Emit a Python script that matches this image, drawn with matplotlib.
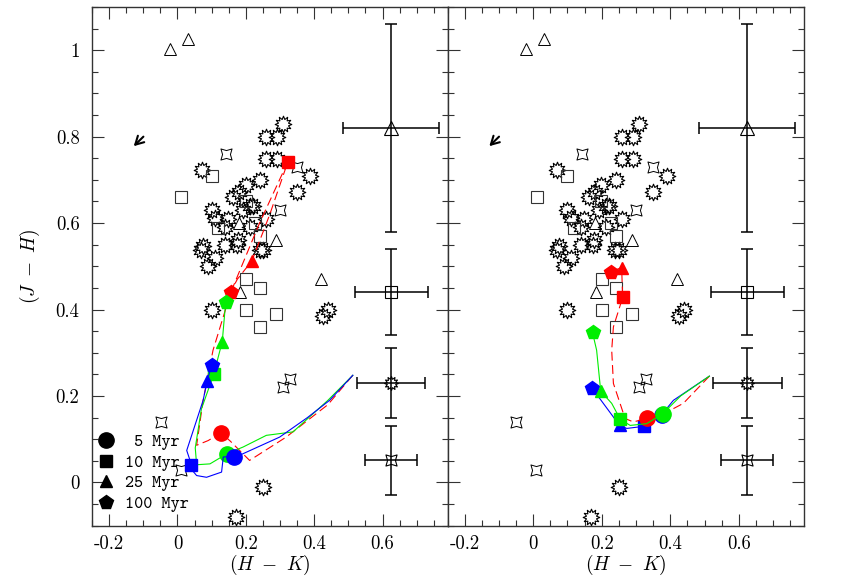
import matplotlib
matplotlib.use('Agg')
from matplotlib import pyplot as plt
from matplotlib.path import Path
from matplotlib.lines import Line2D
from matplotlib.font_manager import FontProperties
import matplotlib.ticker as ticker
import numpy as np

matplotlib.rcParams['font.family'] = 'cmr10'
matplotlib.rcParams['mathtext.fontset'] = 'cm'
matplotlib.rcParams['axes.formatter.use_mathtext'] = True
matplotlib.rcParams['font.size'] = 13

# observed stars (same in both panels)
sun_x = [0.308, 0.26, 0.291, 0.26, 0.291, 0.0705, 0.389, 0.2405, 0.349, 0.199, 0.163, 0.179,
         0.211, 0.221, 0.0997, 0.109, 0.148, 0.138, 0.192, 0.26, 0.211, 0.075, 0.07, 0.109,
         0.09, 0.138, 0.173, 0.177, 0.24, 0.25, 0.0997, 0.44, 0.425, 0.25, 0.17]
sun_y = [0.83, 0.80, 0.80, 0.749, 0.749, 0.722, 0.71, 0.70, 0.671, 0.689, 0.661, 0.671,
         0.639, 0.64, 0.631, 0.612, 0.61, 0.591, 0.631, 0.61, 0.591, 0.546, 0.538, 0.519,
         0.50, 0.55, 0.55, 0.561, 0.538, 0.538, 0.399, 0.40, 0.384, -0.011, -0.08]
square_x = [0.0997, 0.0102, 0.199, 0.228, 0.119, 0.2405, 0.2, 0.2405, 0.2, 0.289, 0.2405]
square_y = [0.71, 0.66, 0.65, 0.60, 0.589, 0.571, 0.47, 0.449, 0.40, 0.39, 0.359]
tri_x = [-0.022, 0.031, 0.179, 0.289, 0.42, 0.182]
tri_y = [1.002, 1.026, 0.60, 0.561, 0.471, 0.4415]
star4_x = [0.141, 0.349, 0.299, 0.328, 0.308, -0.049, 0.0093]
star4_y = [0.76, 0.73, 0.631, 0.239, 0.22, 0.14, 0.0295]

# typical errors
err_x = [0.625, 0.625, 0.625, 0.625]
err_y = [0.82, 0.44, 0.23, 0.051]
err_dx = [0.14, 0.107, 0.1, 0.076]
err_dy = [0.24, 0.10, 0.08, 0.08]

# reddening arrow
arrow_start = (-0.0997, 0.80)
arrow_end = (-0.128, 0.778)

ages = [' 5 Myr', '10 Myr', '25 Myr', '100 Myr']

# left panel tracks
red_l_x = [0.513, 0.44, 0.318, 0.211, 0.154, 0.127, 0.09, 0.056, 0.061, 0.075, 0.104, 0.156, 0.24, 0.323, 0.27, 0.218, 0.175, 0.156]
red_l_y = [0.248, 0.18, 0.105, 0.051, 0.096, 0.115, 0.097, 0.086, 0.113, 0.19, 0.306, 0.44, 0.6, 0.742, 0.62, 0.513, 0.47, 0.4415]
green_l_x = [0.513, 0.44, 0.338, 0.26, 0.192, 0.146, 0.095, 0.056, 0.052, 0.07, 0.106, 0.131, 0.141]
green_l_y = [0.248, 0.19, 0.117, 0.109, 0.082, 0.067, 0.043, 0.041, 0.08, 0.17, 0.25, 0.326, 0.417]
blue_l_x = [0.513, 0.445, 0.38, 0.299, 0.182, 0.165, 0.134, 0.129, 0.085, 0.056, 0.0315, 0.041, 0.027, 0.056, 0.075, 0.087, 0.0997]
blue_l_y = [0.248, 0.19, 0.15, 0.105, 0.063, 0.06, 0.059, 0.024, 0.012, 0.016, 0.039, 0.041, 0.074, 0.144, 0.19, 0.235, 0.271]
# age points: 5, 10, 25, 100 Myr
red_l_age_x = [0.127, 0.323, 0.218, 0.156]
red_l_age_y = [0.115, 0.742, 0.513, 0.4415]
green_l_age_x = [0.146, 0.106, 0.131, 0.141]
green_l_age_y = [0.067, 0.25, 0.326, 0.417]
blue_l_age_x = [0.165, 0.041, 0.087, 0.0997]
blue_l_age_y = [0.06, 0.041, 0.235, 0.271]

# right panel tracks
red_r_x = [0.514, 0.438, 0.40, 0.331, 0.292, 0.268, 0.234, 0.229, 0.234, 0.261, 0.258, 0.227]
red_r_y = [0.246, 0.183, 0.167, 0.148, 0.14, 0.148, 0.229, 0.306, 0.36, 0.428, 0.497, 0.488]
green_r_x = [0.514, 0.43, 0.378, 0.331, 0.283, 0.254, 0.229, 0.197, 0.185, 0.173]
green_r_y = [0.246, 0.2, 0.159, 0.136, 0.132, 0.146, 0.183, 0.211, 0.306, 0.347]
blue_r_x = [0.514, 0.409, 0.375, 0.351, 0.324, 0.273, 0.252, 0.171]
blue_r_y = [0.246, 0.19, 0.157, 0.152, 0.130, 0.125, 0.132, 0.219]
red_r_age_x = [0.331, 0.261, 0.258, 0.227]
red_r_age_y = [0.148, 0.428, 0.497, 0.488]
green_r_age_x = [0.378, 0.254, 0.197, 0.173]
green_r_age_y = [0.159, 0.146, 0.211, 0.347]
blue_r_age_x = [0.375, 0.324, 0.252, 0.171]
blue_r_age_y = [0.157, 0.130, 0.132, 0.219]


def sun_marker():
	n = 12
	ang = np.linspace(0, 2 * np.pi, 2 * n, endpoint=False) + np.pi / 2
	r = np.where(np.arange(2 * n) % 2 == 0, 1.0, 0.62)
	verts = np.column_stack([r * np.cos(ang), r * np.sin(ang)])
	verts = np.vstack([verts, verts[:1]])
	codes = [Path.MOVETO] + [Path.LINETO] * (2 * n - 1) + [Path.CLOSEPOLY]
	return Path(verts, codes)


def star4_marker():
	ang = np.arange(8) * np.pi / 4 + np.pi / 4
	r = np.where(np.arange(8) % 2 == 0, 1.0, 0.5)
	verts = np.column_stack([r * np.cos(ang), r * np.sin(ang)])
	verts = np.vstack([verts, verts[:1]])
	codes = [Path.MOVETO] + [Path.LINETO] * 7 + [Path.CLOSEPOLY]
	return Path(verts, codes)


SUN = sun_marker()
STAR4 = star4_marker()
age_markers = ['o', 's', '^', 'p']
age_sizes = [11, 8, 9, 10.5]
RED, GREEN, BLUE = '#ff0000', '#00ee00', '#0000ff'


def draw_observed(ax):
	ax.plot(sun_x, sun_y, ls='none', marker=SUN, ms=12, mfc='none', mec='k', mew=0.8)
	ax.plot(square_x, square_y, ls='none', marker='s', ms=8, mfc='none', mec='#333333', mew=0.8)
	ax.plot(tri_x, tri_y, ls='none', marker='^', ms=9, mfc='none', mec='k', mew=0.7)
	ax.plot(star4_x, star4_y, ls='none', marker=STAR4, ms=8, mfc='none', mec='k', mew=0.7)
	mk = ['^', 's', SUN, STAR4]
	ms = [10, 8, 10, 8]
	for i in range(len(err_x)):
		ax.errorbar(err_x[i], err_y[i], xerr=err_dx[i], yerr=err_dy[i], fmt='none',
			ecolor='k', elinewidth=1.1, capsize=4, capthick=1.1)
		ax.plot(err_x[i], err_y[i], ls='none', marker=mk[i], ms=ms[i], mfc='none', mec='k', mew=0.8)
	ax.annotate('', xy=arrow_end, xytext=arrow_start,
		arrowprops=dict(arrowstyle='->,head_length=0.45,head_width=0.25', lw=1.5, color='k',
			shrinkA=0, shrinkB=0))


def draw_track(ax, x, y, ax_, ay_, color, ls):
	if ls == '--':
		ax.plot(x, y, color=color, lw=0.8, ls=(0, (8, 4)))
	else:
		ax.plot(x, y, color=color, lw=0.8, ls='-')
	for i in range(4):
		ax.plot(ax_[i], ay_[i], ls='none', marker=age_markers[i], ms=age_sizes[i],
			color=color, mec=color)


def style_axis(ax):
	ax.set_xlim(-0.25, 0.79)
	ax.set_ylim(-0.1, 1.1)
	ax.xaxis.set_major_locator(ticker.MultipleLocator(0.2))
	ax.xaxis.set_minor_locator(ticker.MultipleLocator(0.05))
	ax.yaxis.set_major_locator(ticker.MultipleLocator(0.2))
	ax.yaxis.set_minor_locator(ticker.MultipleLocator(0.05))
	fmt = ticker.FuncFormatter(lambda v, p: '0' if abs(v) < 1e-9 else ('1' if abs(v - 1) < 1e-9 else '%g' % v))
	ax.xaxis.set_major_formatter(fmt)
	ax.yaxis.set_major_formatter(fmt)
	ax.tick_params(which='both', direction='in', top=True, right=True, width=0.8, color='#333333')
	ax.tick_params(which='major', length=8.5, labelsize=13.5)
	ax.tick_params(axis='x', which='major', pad=7)
	ax.tick_params(axis='y', which='major', pad=9)
	ax.tick_params(which='minor', length=4.3)
	for s in ax.spines.values():
		s.set_linewidth(1.0)
		s.set_color('#333333')
	ax.set_xlabel(r'$(H\ -\ K)$', fontsize=14, labelpad=0)


def main():
	fig = plt.figure(figsize=(8.49, 5.81), dpi=100)
	ax_l = fig.add_axes([0.1084, 0.0952, 0.4187, 0.8928])
	ax_r = fig.add_axes([0.5271, 0.0952, 0.4199, 0.8928])

	for ax in (ax_l, ax_r):
		style_axis(ax)
		draw_observed(ax)

	draw_track(ax_l, red_l_x, red_l_y, red_l_age_x, red_l_age_y, RED, '--')
	draw_track(ax_l, green_l_x, green_l_y, green_l_age_x, green_l_age_y, GREEN, '-')
	draw_track(ax_l, blue_l_x, blue_l_y, blue_l_age_x, blue_l_age_y, BLUE, '-')

	draw_track(ax_r, blue_r_x, blue_r_y, blue_r_age_x, blue_r_age_y, BLUE, '-')
	draw_track(ax_r, red_r_x, red_r_y, red_r_age_x, red_r_age_y, RED, '--')
	draw_track(ax_r, green_r_x, green_r_y, green_r_age_x, green_r_age_y, GREEN, '-')

	ax_l.set_ylabel(r'$(J\ -\ H)$', fontsize=14, labelpad=10)
	ax_r.tick_params(labelleft=False)

	handles = [Line2D([], [], ls='none', marker=age_markers[i], ms=age_sizes[i], color='k')
		for i in range(4)]
	ax_l.legend(handles, ages, loc='lower left', bbox_to_anchor=(0.0, 0.02), frameon=False,
		prop=FontProperties(family='cmtt10', size=12.5), handlelength=1.2, handletextpad=0.5,
		labelspacing=0.25, borderpad=0.2, borderaxespad=0)

	fig.savefig('out.png', dpi=100)


if __name__ == '__main__':
	main()
